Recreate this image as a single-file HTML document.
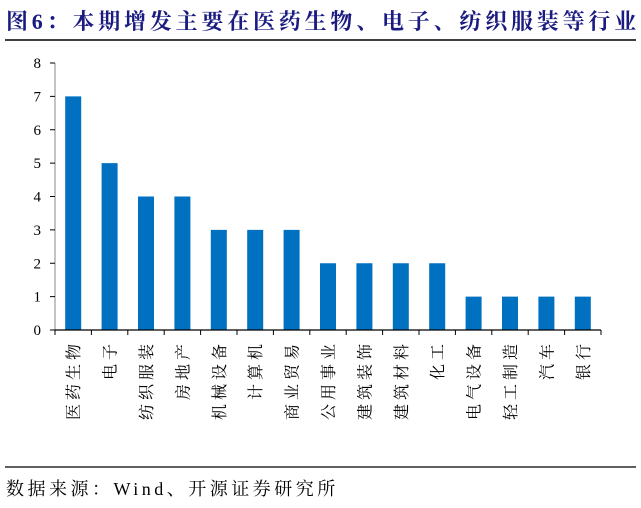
<!DOCTYPE html>
<html><head><meta charset="utf-8"><style>
body{margin:0;background:#fff;width:641px;height:503px;overflow:hidden}
text{font-family:"Liberation Serif","Noto Serif CJK SC",serif}
</style></head><body>
<svg width="641" height="503">
<text x="6" y="29" font-size="22" font-weight="bold" fill="#1a1a80" letter-spacing="3.8">图6：本期增发主要在医药生物、电子、纺织服装等行业</text>
<line x1="5" y1="40" x2="636" y2="40" stroke="#000" stroke-width="1.5"/>
<g id="plot"></g>
<line x1="5" y1="467" x2="636" y2="467" stroke="#000" stroke-width="1.2"/>
<text x="6" y="495" font-size="18" fill="#000" letter-spacing="3.5">数据来源：Wind、开源证券研究所</text>
</svg>
<script>
const categories=["医药生物","电子","纺织服装","房地产","机械设备","计算机","商业贸易","公用事业","建筑装饰","建筑材料","化工","电气设备","轻工制造","汽车","银行"];
const values=[7,5,4,4,3,3,3,2,2,2,2,1,1,1,1];
const yTicks=[0,1,2,3,4,5,6,7,8];
const X0=55,X1=601,Y0=330,Y8=63;
const ns="http://www.w3.org/2000/svg";
const g=document.getElementById('plot');
const step=(X1-X0)/categories.length;
const y=v=>Y0-(Y0-Y8)*v/8;
const x=i=>X0+step*(i+0.5);
function mk(t,a){const e=document.createElementNS(ns,t);for(const k in a)e.setAttribute(k,a[k]);g.appendChild(e);return e;}
let ax=mk('line',{x1:X0,y1:Y8,x2:X0,y2:Y0,stroke:'#888','stroke-width':1});


yTicks.forEach(t=>{
 let l=mk('line',{x1:X0-5,y1:y(t),x2:X0,y2:y(t),stroke:'#000'});
 
 
 let tx=mk('text',{x:X0-14,y:y(t)+5,'font-size':15,'text-anchor':'end'});
 tx.textContent=t;
 
 
});
values.forEach((v,i)=>{
 let r=mk('rect',{x:x(i)-8,y:y(v),width:16,height:Y0-y(v),fill:'#0070C0'});
 
 
});
let xa=mk('line',{x1:X0,y1:Y0,x2:X1,y2:Y0,stroke:'#000','stroke-width':1.2});


for(let i=0;i<=categories.length;i++){
 let l=mk('line',{x1:X0+step*i,y1:Y0,x2:X0+step*i,y2:Y0+5,stroke:'#000'});
 
 
}
categories.forEach((c,i)=>{
 let t=mk('text',{x:0,y:0,'font-size':16,'text-anchor':'end','letter-spacing':'4',transform:`translate(${x(i)+6},${Y0+10}) rotate(-90)`});
 t.textContent=c;
 
 
});
</script>
</body></html>
